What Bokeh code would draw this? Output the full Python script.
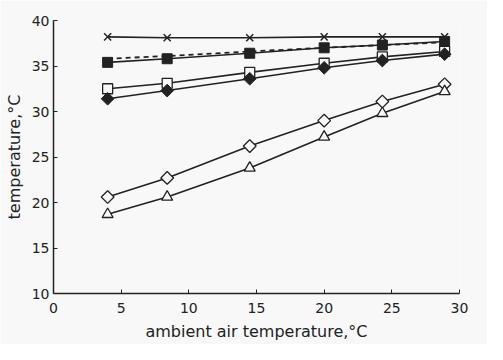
import numpy as np
from bokeh.plotting import figure
from bokeh.models import Range1d, FixedTicker
from bokeh.embed import file_html
from bokeh.resources import INLINE

# ambient air temperature, degC
x_amb = [4.0, 8.4, 14.5, 20.0, 24.3, 28.9]

cross_vals = [38.2, 38.1, 38.1, 38.2, 38.2, 38.2]
fsquare_vals = [35.4, 35.8, 36.4, 37.0, 37.3, 37.7]
dashed_vals = [35.8, 36.1, 36.6, 37.0, 37.3, 37.6]
osquare_vals = [32.5, 33.1, 34.3, 35.3, 36.0, 36.6]
fdiamond_vals = [31.4, 32.3, 33.6, 34.8, 35.6, 36.3]
odiamond_vals = [20.6, 22.7, 26.2, 29.0, 31.1, 33.0]
otriangle_vals = [18.7, 20.6, 23.8, 27.2, 29.8, 32.2]

x_ticks = [0, 5, 10, 15, 20, 25, 30]
y_ticks = [10, 15, 20, 25, 30, 35, 40]

BG = "#f8f8f8"
INK = "#222222"
FONT = "DejaVu Sans"

p = figure(width=487, height=344, output_backend="svg", toolbar_location=None,
           x_range=Range1d(0, 30), y_range=Range1d(10, 40),
           min_border_left=53, min_border_right=28, min_border_top=20, min_border_bottom=51)
p.background_fill_color = BG
p.border_fill_color = BG
p.outline_line_color = None
p.grid.visible = False

for ax in (p.xaxis[0], p.yaxis[0]):
    ax.major_tick_in = 4
    ax.major_tick_out = 0
    ax.minor_tick_line_color = None
    ax.axis_line_color = INK
    ax.axis_line_width = 1.5
    ax.major_tick_line_color = INK
    ax.major_label_text_font = FONT
    ax.major_label_text_font_size = "14px"
    ax.major_label_text_color = INK
    ax.axis_label_text_font = FONT
    ax.axis_label_text_font_size = "16px"
    ax.axis_label_text_font_style = "normal"
    ax.axis_label_text_color = INK

p.xaxis[0].ticker = FixedTicker(ticks=x_ticks)
p.yaxis[0].ticker = FixedTicker(ticks=y_ticks)
p.xaxis[0].axis_label = "ambient air temperature,°C"
p.yaxis[0].axis_label = "temperature,°C"
p.xaxis[0].major_label_standoff = 9
p.yaxis[0].major_label_standoff = 4
p.xaxis[0].axis_label_standoff = 6
p.yaxis[0].axis_label_standoff = 5

lw = 1.6
p.line(x_amb, dashed_vals, line_color=INK, line_width=1.8, line_dash="5 4")
for vals in (cross_vals, fsquare_vals, osquare_vals, fdiamond_vals, odiamond_vals, otriangle_vals):
    p.line(x_amb, vals, line_color=INK, line_width=lw)

p.scatter(x_amb, cross_vals, marker="x", size=10, line_color=INK, line_width=1.5)
p.scatter(x_amb, osquare_vals, marker="square", size=10, fill_color=BG, line_color=INK, line_width=1.3)
p.scatter(x_amb, fsquare_vals, marker="square", size=10, fill_color=INK, line_color=INK)
p.scatter(x_amb, fdiamond_vals, marker="square", angle=np.pi / 4, size=9, fill_color=INK, line_color=INK)
p.scatter(x_amb, odiamond_vals, marker="square", angle=np.pi / 4, size=9, fill_color=BG, line_color=INK, line_width=1.3)
p.scatter(x_amb, otriangle_vals, marker="triangle", size=11, fill_color=BG, line_color=INK, line_width=1.3)

html = file_html(p, INLINE)
html = html.replace("<body>", '<body style="background:%s">' % BG, 1)
open("out.html", "w").write(html)
